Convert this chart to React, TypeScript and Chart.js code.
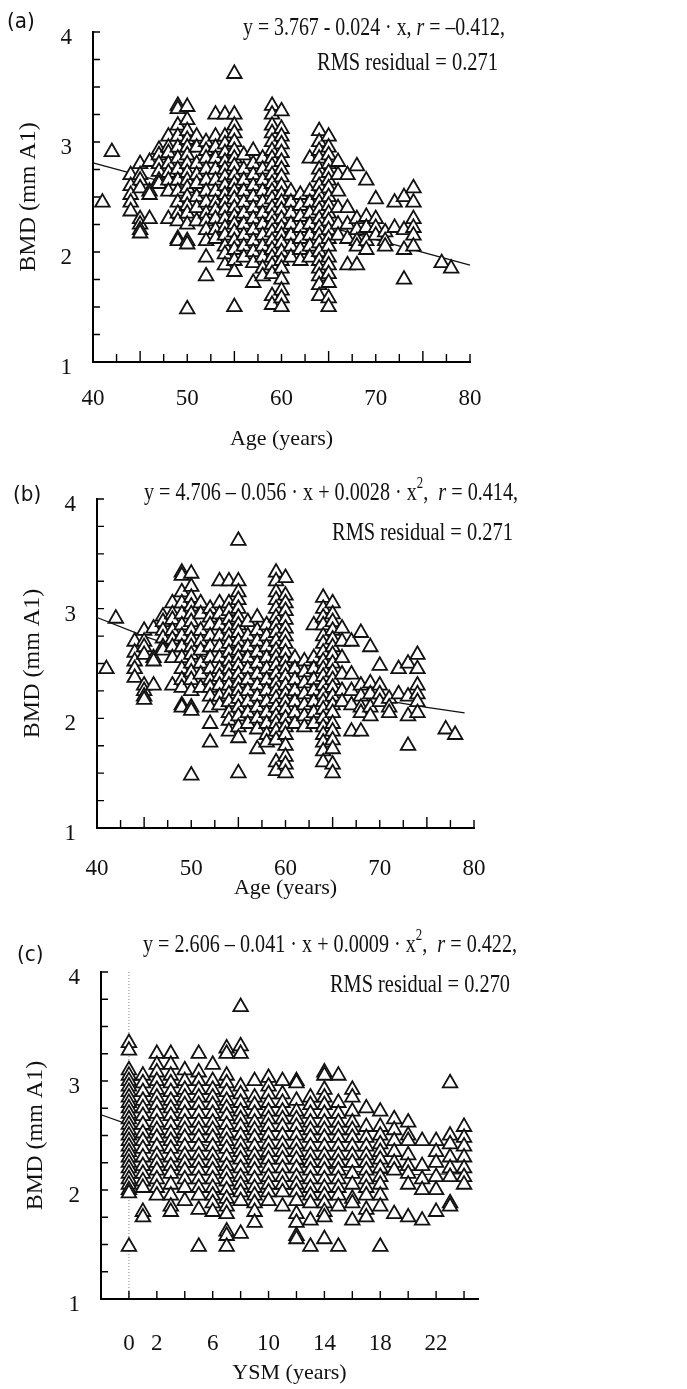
import React, { useEffect, useRef } from "react";
import { Chart, registerables } from "chart.js";
Chart.register(...registerables);

// ---------- DATA ----------
const ages = [41, 42, 44, 45, 46, 47, 48, 49, 50, 51, 52, 53, 54, 55, 56, 57, 58, 59, 60, 61, 62, 63, 64, 65, 66, 67, 68, 69, 70, 71, 72, 73, 74, 77, 78];
const bmdAtAge = [
  [2.45],
  [2.91],
  [2.7, 2.6, 2.52, 2.45, 2.37],
  [2.8, 2.7, 2.65, 2.58, 2.3, 2.25, 2.2, 2.17],
  [2.82, 2.55, 2.52, 2.3],
  [2.93, 2.88, 2.8, 2.73, 2.65, 2.62],
  [3.05, 2.95, 2.9, 2.8, 2.72, 2.65, 2.55, 2.3],
  [3.33, 3.3, 3.15, 3.05, 2.95, 2.85, 2.75, 2.65, 2.55, 2.45, 2.35, 2.28, 2.12, 2.1],
  [3.32, 3.2, 3.1, 3.02, 2.95, 2.88, 2.8, 2.72, 2.65, 2.58, 2.5, 2.42, 2.35, 2.25, 2.1, 2.07, 1.48],
  [3.05, 2.95, 2.8, 2.7, 2.62, 2.5, 2.4, 2.28],
  [3.0, 2.92, 2.85, 2.75, 2.65, 2.55, 2.45, 2.35, 2.28, 2.2, 2.1, 1.95, 1.78],
  [3.25, 3.05, 2.95, 2.85, 2.75, 2.65, 2.55, 2.45, 2.38, 2.3, 2.2, 2.12],
  [3.25, 3.05, 2.98, 2.9, 2.82, 2.75, 2.68, 2.6, 2.52, 2.45, 2.38, 2.3, 2.22, 2.15, 2.05, 1.98, 1.88],
  [3.62, 3.25, 3.15, 3.08, 3.0, 2.92, 2.85, 2.78, 2.7, 2.62, 2.55, 2.48, 2.4, 2.32, 2.25, 2.18, 2.1, 2.02, 1.92, 1.82, 1.5],
  [2.88, 2.75, 2.65, 2.55, 2.45, 2.35, 2.25, 2.15, 2.05, 1.95],
  [2.92, 2.8, 2.7, 2.6, 2.5, 2.4, 2.3, 2.2, 2.1, 2.0, 1.9, 1.72],
  [2.85, 2.75, 2.65, 2.55, 2.45, 2.35, 2.25, 2.15, 2.05, 1.95, 1.85, 1.78],
  [3.33, 3.25, 3.15, 3.08, 3.0, 2.92, 2.85, 2.78, 2.7, 2.62, 2.55, 2.48, 2.4, 2.32, 2.25, 2.18, 2.1, 2.02, 1.95, 1.88, 1.8, 1.6, 1.52],
  [3.28, 3.12, 3.05, 2.98, 2.9, 2.82, 2.75, 2.68, 2.6, 2.52, 2.45, 2.38, 2.3, 2.22, 2.15, 2.08, 2.0, 1.92, 1.85, 1.75, 1.65, 1.58, 1.5],
  [2.55, 2.45, 2.35, 2.25, 2.15, 2.05, 1.95],
  [2.52, 2.42, 2.32, 2.22, 2.12, 2.02, 1.92],
  [2.85, 2.55, 2.45, 2.35, 2.25, 2.15, 2.05, 1.95],
  [3.1, 3.0, 2.92, 2.85, 2.75, 2.68, 2.6, 2.52, 2.45, 2.38, 2.3, 2.22, 2.15, 2.08, 2.0, 1.92, 1.85, 1.78, 1.7, 1.6],
  [3.05, 2.95, 2.88, 2.8, 2.72, 2.65, 2.58, 2.5, 2.42, 2.35, 2.28, 2.2, 2.12, 2.05, 1.95, 1.88, 1.8, 1.72, 1.58, 1.5],
  [2.82, 2.7, 2.55, 2.4, 2.25, 2.15],
  [2.7, 2.4, 2.25, 2.12, 1.88],
  [2.78, 2.3, 2.2, 2.1, 2.05, 1.88],
  [2.65, 2.32, 2.22, 2.1, 2.02],
  [2.48, 2.3, 2.22, 2.15],
  [2.18, 2.1, 2.05],
  [2.45, 2.22],
  [2.5, 2.2, 2.02, 1.75],
  [2.58, 2.45, 2.3, 2.22, 2.15, 2.05],
  [1.9],
  [1.85],
];

const ysmYears = [0, 1, 2, 3, 4, 5, 6, 7, 8, 9, 10, 11, 12, 13, 14, 15, 16, 17, 18, 19, 20, 21, 22, 23, 24];
const bmdAtYsm = [
  [3.35, 3.28, 3.1, 3.05, 3.0, 2.95, 2.9, 2.85, 2.8, 2.75, 2.7, 2.65, 2.6, 2.55, 2.5, 2.45, 2.4, 2.35, 2.3, 2.25, 2.2, 2.15, 2.1, 2.05, 2.0, 1.97, 1.48],
  [3.05, 2.98, 2.9, 2.82, 2.75, 2.68, 2.6, 2.52, 2.45, 2.38, 2.3, 2.22, 2.15, 2.08, 2.02, 1.8, 1.75],
  [3.25, 3.15, 3.08, 3.0, 2.92, 2.85, 2.78, 2.7, 2.62, 2.55, 2.48, 2.4, 2.32, 2.25, 2.18, 2.1, 2.02, 1.95],
  [3.25, 3.15, 3.05, 2.98, 2.9, 2.82, 2.75, 2.68, 2.6, 2.52, 2.45, 2.38, 2.3, 2.22, 2.15, 2.05, 1.95, 1.85, 1.8],
  [3.1, 3.0, 2.92, 2.85, 2.78, 2.7, 2.62, 2.55, 2.48, 2.4, 2.32, 2.25, 2.18, 2.1, 2.02, 1.9],
  [3.25, 3.08, 3.0, 2.92, 2.85, 2.78, 2.7, 2.62, 2.55, 2.48, 2.4, 2.32, 2.25, 2.18, 2.1, 2.02, 1.95, 1.82, 1.48],
  [3.15, 3.0, 2.92, 2.85, 2.78, 2.7, 2.62, 2.55, 2.48, 2.4, 2.32, 2.25, 2.18, 2.1, 2.02, 1.95, 1.88, 1.8],
  [3.3, 3.25, 3.05, 2.98, 2.9, 2.82, 2.75, 2.68, 2.6, 2.52, 2.45, 2.38, 2.3, 2.22, 2.15, 2.08, 2.0, 1.92, 1.85, 1.78, 1.62, 1.58, 1.48],
  [3.68, 3.32, 3.25, 2.95, 2.88, 2.8, 2.72, 2.65, 2.58, 2.5, 2.42, 2.35, 2.28, 2.2, 2.12, 2.05, 1.98, 1.9, 1.6],
  [3.0, 2.85, 2.78, 2.7, 2.62, 2.55, 2.48, 2.4, 2.32, 2.25, 2.18, 2.1, 2.02, 1.95, 1.88, 1.8, 1.7],
  [3.03, 2.95, 2.88, 2.8, 2.72, 2.65, 2.58, 2.5, 2.42, 2.35, 2.28, 2.2, 2.12, 2.05, 1.98, 1.9],
  [3.0, 2.88, 2.8, 2.72, 2.65, 2.58, 2.5, 2.42, 2.35, 2.28, 2.2, 2.12, 2.05, 1.98, 1.85],
  [3.0, 2.98, 2.82, 2.72, 2.65, 2.58, 2.5, 2.42, 2.35, 2.28, 2.2, 2.12, 2.05, 1.98, 1.9, 1.78, 1.7, 1.58, 1.55],
  [2.85, 2.78, 2.7, 2.62, 2.55, 2.48, 2.4, 2.32, 2.25, 2.18, 2.1, 2.02, 1.95, 1.88, 1.72, 1.48],
  [3.08, 3.05, 2.92, 2.85, 2.78, 2.7, 2.62, 2.55, 2.48, 2.4, 2.32, 2.25, 2.18, 2.1, 2.02, 1.95, 1.88, 1.8, 1.75, 1.55],
  [3.05, 2.8, 2.7, 2.62, 2.55, 2.48, 2.4, 2.32, 2.25, 2.18, 2.1, 2.02, 1.95, 1.85, 1.48],
  [2.92, 2.85, 2.72, 2.62, 2.55, 2.48, 2.4, 2.32, 2.25, 2.15, 2.05, 1.92, 1.88, 1.72],
  [2.75, 2.58, 2.48, 2.4, 2.32, 2.25, 2.18, 2.1, 2.02, 1.95, 1.82, 1.75],
  [2.72, 2.58, 2.5, 2.42, 2.35, 2.28, 2.2, 2.12, 2.05, 1.95, 1.85, 1.48],
  [2.65, 2.55, 2.45, 2.35, 2.25, 2.18, 1.78],
  [2.62, 2.5, 2.45, 2.32, 2.22, 2.15, 2.05, 1.75],
  [2.45, 2.22, 2.1, 2.0, 1.72],
  [2.45, 2.35, 2.25, 2.12, 2.0, 1.8],
  [2.98, 2.5, 2.42, 2.3, 2.2, 2.12, 1.88, 1.85],
  [2.58, 2.48, 2.4, 2.3, 2.2, 2.12, 2.05],
];

const fitAX = [40, 80];
const fitAY = [2.81, 1.88];
const fitBX = [40, 45, 50, 55, 60, 65, 70, 75, 79];
const fitBY = [2.92, 2.75, 2.6, 2.47, 2.36, 2.26, 2.17, 2.1, 2.05];
const fitCX = [-2, 0, 4, 8, 12, 16, 20, 24];
const fitCY = [2.69, 2.6, 2.46, 2.33, 2.24, 2.17, 2.14, 2.15];

const bmdTickLabels = [1, 2, 3, 4];
const bmdTickMarks = [1.25, 1.5, 1.75, 2, 2.25, 2.5, 2.75, 3, 3.25, 3.5, 3.75, 4];
const ageTickLabels = [40, 50, 60, 70, 80];
const ageTickMarks = [42.5, 45, 47.5, 50, 52.5, 55, 57.5, 60, 62.5, 65, 67.5, 70, 72.5, 75, 77.5, 80];
const ageLongMarks = [45, 55, 65, 75];
const ysmTickLabels = [0, 2, 6, 10, 14, 18, 22];
const ysmTickMarks = [0, 2, 4, 6, 8, 10, 12, 14, 16, 18, 20, 22, 24];

// ---------- STYLE ----------
const SERIF = '"Liberation Serif", "Times New Roman", serif';
const SANS = '"DejaVu Sans", "Liberation Sans", sans-serif';
const INK = "#111";

type Seg = { t: string; it?: boolean; sup?: boolean };
type TextLine = { segs: Seg[]; x0: number; x1: number; y: number };

function toPoints(xs: number[], cols: number[][]) {
  const out: { x: number; y: number }[] = [];
  xs.forEach((x, i) => cols[i].forEach((y) => out.push({ x, y })));
  return out;
}
function zip(xs: number[], ys: number[]) {
  return xs.map((x, i) => ({ x, y: ys[i] }));
}

function drawRich(ctx: CanvasRenderingContext2D, line: TextLine, size: number) {
  const fontOf = (s: Seg) => `${s.it ? "italic " : ""}${s.sup ? Math.round(size * 0.62) : size}px ${SERIF}`;
  let w = 0;
  const ws = line.segs.map((s) => {
    ctx.font = fontOf(s);
    const m = ctx.measureText(s.t).width;
    w += m;
    return m;
  });
  const sx = (line.x1 - line.x0) / w;
  ctx.save();
  ctx.translate(line.x0, line.y);
  ctx.scale(sx, 1.18);
  ctx.textBaseline = "middle";
  ctx.textAlign = "left";
  ctx.fillStyle = INK;
  let cx = 0;
  line.segs.forEach((s, i) => {
    ctx.font = fontOf(s);
    ctx.fillText(s.t, cx, s.sup ? -size * 0.36 : 0);
    cx += ws[i];
  });
  ctx.restore();
}

type PanelCfg = {
  top: number;
  height: number;
  left: number;
  plotTop: number;
  right: number;
  bottom: number;
  xMin: number;
  xMax: number;
  xLabels: number[];
  xMarks: number[];
  xLong: number[];
  xTitle: string;
  points: { x: number; y: number }[];
  fit: { x: number; y: number }[];
  xTickPad: number;
  xTitlePad: number;
  yTitlePad: number;
  tag: string;
  tagX: number;
  tagY: number;
  texts: TextLine[];
  zeroLine: boolean;
};

const eqA: Seg[] = [{ t: "y = 3.767 - 0.024 · x, " }, { t: "r", it: true }, { t: " = –0.412," }];
const eqB: Seg[] = [{ t: "y = 4.706 – 0.056 · x + 0.0028 · x" }, { t: "2", sup: true }, { t: ",  " }, { t: "r", it: true }, { t: " = 0.414," }];
const eqC: Seg[] = [{ t: "y = 2.606 – 0.041 · x + 0.0009 · x" }, { t: "2", sup: true }, { t: ",  " }, { t: "r", it: true }, { t: " = 0.422," }];

const panels: PanelCfg[] = [
  {
    top: 0, height: 460, left: 93, plotTop: 32, right: 470, bottom: 362,
    xMin: 40, xMax: 80, xLabels: ageTickLabels, xMarks: ageTickMarks, xLong: ageLongMarks,
    xTitle: "Age (years)", points: toPoints(ages, bmdAtAge), fit: zip(fitAX, fitAY),
    xTickPad: 15, xTitlePad: 8, yTitlePad: 14,
    tag: "(a)", tagX: 7, tagY: 22,
    texts: [
      { segs: eqA, x0: 243, x1: 505, y: 28 },
      { segs: [{ t: "RMS residual = 0.271" }], x0: 317, x1: 498, y: 63 },
    ],
    zeroLine: false,
  },
  {
    top: 465, height: 440, left: 97, plotTop: 499, right: 474, bottom: 828,
    xMin: 40, xMax: 80, xLabels: ageTickLabels, xMarks: ageTickMarks, xLong: ageLongMarks,
    xTitle: "Age (years)", points: toPoints(ages, bmdAtAge), fit: zip(fitBX, fitBY),
    xTickPad: 19, xTitlePad: 4, yTitlePad: 18,
    tag: "(b)", tagX: 13, tagY: 495,
    texts: [
      { segs: eqB, x0: 144, x1: 518, y: 493 },
      { segs: [{ t: "RMS residual = 0.271" }], x0: 332, x1: 513, y: 533 },
    ],
    zeroLine: false,
  },
  {
    top: 925, height: 464, left: 101, plotTop: 972, right: 478, bottom: 1299,
    xMin: -2, xMax: 25, xLabels: ysmTickLabels, xMarks: ysmTickMarks, xLong: [],
    xTitle: "YSM (years)", points: toPoints(ysmYears, bmdAtYsm), fit: zip(fitCX, fitCY),
    xTickPad: 23, xTitlePad: 3, yTitlePad: 21,
    tag: "(c)", tagX: 17, tagY: 955,
    texts: [
      { segs: eqC, x0: 143, x1: 517, y: 945 },
      { segs: [{ t: "RMS residual = 0.270" }], x0: 330, x1: 510, y: 985 },
    ],
    zeroLine: true,
  },
];

function Panel({ cfg }: { cfg: PanelCfg }) {
  const ref = useRef<HTMLCanvasElement>(null);
  useEffect(() => {
    const canvas = ref.current;
    if (!canvas) return;
    const W = 687;
    const decor = {
      id: "decor",
      beforeDatasetsDraw(chart: any) {
        if (!cfg.zeroLine) return;
        const ctx = chart.ctx as CanvasRenderingContext2D;
        const x = chart.scales.x.getPixelForValue(0);
        ctx.save();
        ctx.strokeStyle = "#888";
        ctx.lineWidth = 1;
        ctx.setLineDash([1, 2]);
        ctx.beginPath();
        ctx.moveTo(x, chart.chartArea.top);
        ctx.lineTo(x, chart.chartArea.bottom);
        ctx.stroke();
        ctx.restore();
      },
      afterDraw(chart: any) {
        const ctx = chart.ctx as CanvasRenderingContext2D;
        const xs = chart.scales.x;
        const ys = chart.scales.y;
        const { left, bottom } = chart.chartArea;
        ctx.save();
        ctx.strokeStyle = "#000";
        ctx.lineWidth = 1.4;
        ctx.beginPath();
        cfg.xMarks.forEach((v) => {
          const px = xs.getPixelForValue(v);
          const len = cfg.xLong.includes(v) ? 11 : 8;
          ctx.moveTo(px, bottom + 1);
          ctx.lineTo(px, bottom - len);
        });
        bmdTickMarks.forEach((v) => {
          const py = ys.getPixelForValue(v);
          ctx.moveTo(left - 1, py);
          ctx.lineTo(left + 7, py);
        });
        ctx.stroke();
        ctx.restore();
        ctx.save();
        cfg.texts.forEach((t) => drawRich(ctx, { ...t, y: t.y - cfg.top }, 22));
        ctx.fillStyle = INK;
        ctx.font = `19px ${SANS}`;
        ctx.textBaseline = "middle";
        ctx.textAlign = "left";
        ctx.translate(cfg.tagX, cfg.tagY - cfg.top);
        ctx.scale(1.05, 1.15);
        ctx.fillText(cfg.tag, 0, 0);
        ctx.restore();
      },
    };
    const chart = new Chart(canvas, {
      type: "scatter",
      data: {
        datasets: [
          {
            data: cfg.points,
            pointStyle: "triangle",
            pointRadius: 8.4,
            pointBackgroundColor: "#fff",
            pointBorderColor: "#111",
            pointBorderWidth: 1.8,
            clip: false,
          } as any,
          {
            data: cfg.fit,
            showLine: true,
            pointRadius: 0,
            borderColor: "#111",
            borderWidth: 1.2,
            tension: 0,
            clip: false,
          } as any,
        ],
      },
      options: {
        animation: false,
        responsive: false,
        events: [],
        layout: { padding: { top: cfg.plotTop - cfg.top, right: W - cfg.right, left: 0, bottom: 0 } },
        plugins: { legend: { display: false }, tooltip: { enabled: false } },
        scales: {
          x: {
            type: "linear",
            min: cfg.xMin,
            max: cfg.xMax,
            afterBuildTicks: (s: any) => {
              s.ticks = cfg.xLabels.map((v) => ({ value: v }));
            },
            afterFit: (s: any) => {
              s.height = cfg.top + cfg.height - cfg.bottom;
            },
            grid: { display: false },
            border: { display: true, color: "#000", width: 2 },
            ticks: { font: { family: SERIF, size: 23 }, color: INK, padding: cfg.xTickPad, maxRotation: 0, autoSkip: false },
            title: { display: true, text: cfg.xTitle, font: { family: SERIF, size: 22 }, color: INK, padding: { top: 0, bottom: cfg.xTitlePad } },
          },
          y: {
            type: "linear",
            min: 1,
            max: 4,
            afterBuildTicks: (s: any) => {
              s.ticks = bmdTickLabels.map((v) => ({ value: v }));
            },
            afterFit: (s: any) => {
              s.width = cfg.left;
            },
            grid: { display: false },
            border: { display: true, color: "#000", width: 2 },
            ticks: { font: { family: SERIF, size: 23 }, color: INK, padding: 13, labelOffset: 6 },
            title: { display: true, text: "BMD (mm A1)", font: { family: SERIF, size: 24 }, color: INK, padding: { top: cfg.yTitlePad, bottom: 0 } },
          },
        },
      },
      plugins: [decor],
    } as any);
    return () => chart.destroy();
  }, [cfg]);
  return (
    <div style={{ position: "absolute", left: 0, top: cfg.top, width: 687, height: cfg.height }}>
      <canvas ref={ref} width={687} height={cfg.height} style={{ display: "block" }} />
    </div>
  );
}

export default function App() {
  return (
    <div style={{ position: "absolute", left: 0, top: 0, width: 687, height: 1389, background: "#fff", overflow: "hidden" }}>
      {panels.map((p) => (
        <Panel key={p.tag} cfg={p} />
      ))}
    </div>
  );
}
